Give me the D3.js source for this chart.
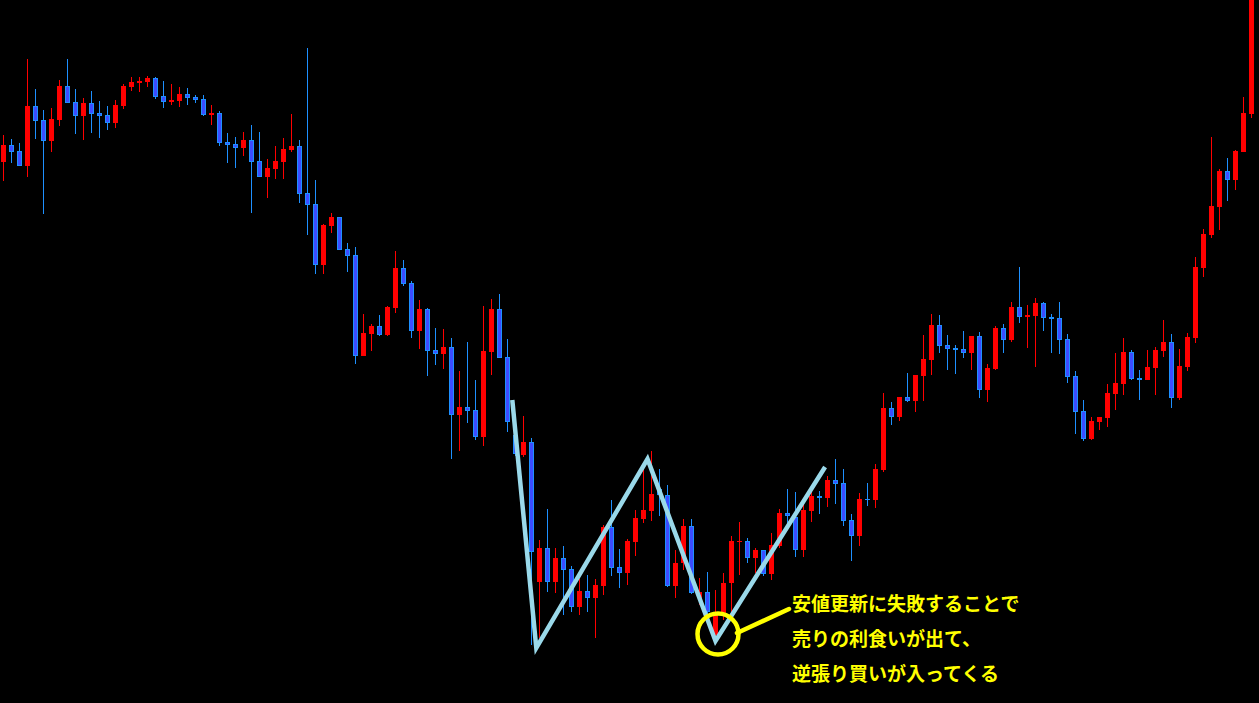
<!DOCTYPE html>
<html>
<head>
<meta charset="utf-8">
<script src="https://cdn.jsdelivr.net/npm/d3@7"></script>
<style>
  html, body { margin: 0; padding: 0; background: #000; overflow: hidden; }
  svg { display: block; }
</style>
</head>
<body>
<div id="chart"></div>
<script>
// candlestick chart with a zigzag (double-bottom) annotation
// values are price units (no axis is shown)

const opens = [
  538,555,549,534,594,580,559,580,614,598,584,597,587,585,577,594,613,617,618,622,
  604,598,599,606,603,601,585,587,558,556,552,560,539,523,531,538,550,554,507,496,
  435,474,483,451,445,344,366,374,365,392,432,417,369,391,350,346,353,285,293,290,
  263,348,391,343,265,245,258,118,152,118,142,131,93,109,102,114,173,133,127,158,
  181,189,211,205,114,137,174,102,108,65,85,117,158,159,142,150,126,154,187,183,
  150,189,204,202,220,217,180,164,201,200,230,292,283,303,299,324,340,375,355,352,
  351,347,364,310,331,372,360,393,383,384,397,383,382,361,324,289,261,278,282,306,
  316,348,322,320,332,349,358,302,333,362,432,465,493,529,520,548,586
];
const highs = [
  565,561,557,641,611,590,592,620,641,611,602,609,599,594,600,616,623,623,624,623,
  619,616,613,612,605,605,595,589,567,563,568,575,568,541,554,562,586,560,652,520,
  476,487,483,457,453,386,376,385,394,449,440,419,400,392,372,371,362,329,358,320,
  394,401,406,361,278,284,262,160,191,152,154,134,121,125,121,175,200,151,161,190,
  234,249,231,215,150,181,181,122,128,110,127,164,178,162,152,150,167,191,211,208,
  197,209,209,224,241,231,186,207,217,236,307,298,303,327,325,365,386,385,365,355,
  369,364,368,336,374,376,398,433,395,402,398,386,398,366,329,300,283,283,316,347,
  362,350,330,350,353,380,366,351,367,443,471,563,531,542,550,603,705
];
const lows = [
  519,537,534,523,561,486,548,574,597,566,560,567,562,570,572,591,609,608,613,601,
  592,595,593,595,597,584,575,554,537,532,544,487,523,502,521,521,548,497,465,426,
  426,467,450,428,336,344,349,364,364,387,414,362,351,324,335,331,241,249,277,260,
  254,325,342,268,244,243,55,62,108,107,85,88,85,88,62,105,124,112,115,144,
  177,179,184,113,102,130,106,95,82,60,80,87,125,137,127,124,120,152,170,143,
  143,178,186,193,196,174,139,154,194,192,228,275,279,298,288,299,325,347,330,326,
  342,330,302,298,330,347,358,377,352,333,369,347,346,317,266,259,260,270,273,290,
  305,320,300,320,305,343,292,300,329,357,423,462,470,499,510,548,582
];
const closes = [
  555,548,534,594,579,559,581,614,597,584,597,586,584,577,595,614,618,619,622,603,
  598,600,606,602,600,585,587,557,555,552,560,538,523,532,539,551,554,506,495,435,
  475,483,450,444,344,367,374,365,393,432,416,369,391,349,346,353,285,293,289,263,
  349,391,342,278,246,258,148,152,118,142,130,93,109,102,115,173,132,127,159,182,
  190,206,205,114,137,174,107,108,88,85,117,159,159,142,150,126,155,187,184,150,
  190,204,202,220,216,179,164,201,200,231,292,283,303,299,325,341,375,354,351,350,
  347,364,310,332,372,360,393,383,385,397,382,381,360,323,288,261,279,283,307,317,
  348,321,320,333,350,358,302,334,363,433,466,494,529,520,549,587,700
];

// zigzag annotation pivots (candle index, price)
const zigIndex = [63.6, 66.6, 80.5, 89, 102.7];
const zigPrice = [300, 52, 241, 59, 233];

const noteLines = [
  '安値更新に失敗することで',
  '売りの利食いが出て、',
  '逆張り買いが入ってくる'
];

const W = 1259, H = 703;
const UP = '#ff0000', DOWN_BODY = '#3c4cff', DOWN_LINE = '#1e90ff';
const YELLOW = '#ffff00';

const candles = opens.map((o, i) => ({
  i: i, o: o, h: highs[i], l: lows[i], c: closes[i]
}));

const x = d3.scaleLinear().domain([0, candles.length - 1]).range([3.5, 3.5 + 8 * (candles.length - 1)]);
const y = d3.scaleLinear().domain([0, 700]).range([700, 0]);

const svg = d3.select('#chart').append('svg')
  .attr('width', W)
  .attr('height', H)
  .style('background', '#000');

const g = svg.append('g');

// wicks
g.append('g')
  .selectAll('line')
  .data(candles)
  .join('line')
  .attr('x1', d => x(d.i))
  .attr('x2', d => x(d.i))
  .attr('y1', d => y(d.h))
  .attr('y2', d => y(d.l))
  .attr('stroke', d => d.c >= d.o ? UP : DOWN_LINE)
  .attr('stroke-width', 1);

// bodies
g.append('g')
  .selectAll('rect')
  .data(candles)
  .join('rect')
  .attr('x', d => x(d.i) - 2)
  .attr('width', 4)
  .attr('y', d => y(Math.max(d.o, d.c)) + 0.5)
  .attr('height', d => Math.max(Math.abs(y(d.o) - y(d.c)) - 1, 0.01))
  .attr('fill', d => d.c >= d.o ? UP : DOWN_BODY)
  .attr('stroke', d => d.c >= d.o ? UP : DOWN_LINE)
  .attr('stroke-width', 1);

// zigzag line
const zig = zigIndex.map((v, k) => [x(v), y(zigPrice[k])]);
svg.append('path')
  .attr('d', d3.line()(zig))
  .attr('fill', 'none')
  .attr('stroke', '#9ad9ea')
  .attr('stroke-width', 4.5)
  .attr('stroke-linejoin', 'miter');

// circle at the failed new low
const cx = x(89) + 2.5, cy = y(66);
svg.append('circle')
  .attr('cx', cx)
  .attr('cy', cy)
  .attr('r', 20.5)
  .attr('fill', 'none')
  .attr('stroke', YELLOW)
  .attr('stroke-width', 4.5);

svg.append('line')
  .attr('x1', cx + 19)
  .attr('y1', cy - 1)
  .attr('x2', 789)
  .attr('y2', 609)
  .attr('stroke', YELLOW)
  .attr('stroke-width', 4.5)
  .attr('stroke-linecap', 'round');

// note text
svg.append('g')
  .selectAll('text')
  .data(noteLines)
  .join('text')
  .attr('x', 792)
  .attr('y', (d, k) => 611 + k * 35)
  .attr('fill', YELLOW)
  .attr('font-family', '"Noto Sans CJK JP", sans-serif')
  .attr('font-weight', 'bold')
  .attr('font-size', 19)
  .text(d => d);
</script>
</body>
</html>
